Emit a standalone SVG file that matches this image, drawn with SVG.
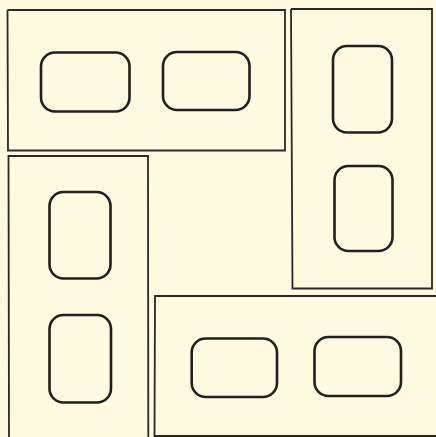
<svg xmlns="http://www.w3.org/2000/svg" width="436" height="437" viewBox="0 0 436 437">
<style>
.panel{fill:none;stroke:#2b2627;stroke-width:1.8}
.win{fill:none;stroke:#231f20;stroke-width:2.6}
</style>
<rect width="436" height="437" fill="#fcfbe2"/>
<g id="panel-top">
<polyline class="panel" points="7.5,10 285,10 285,150.5 8,150.5 7.5,10"/>
<rect class="win" x="41" y="52.5" width="88.5" height="59" rx="14"/>
<rect class="win" x="163" y="52" width="86.5" height="58" rx="14"/>
</g>
<g id="panel-right">
<polyline class="panel" points="291,9 432,9 432,288.5 292.5,288.5 291,9"/>
<rect class="win" x="333" y="46" width="59" height="86.5" rx="14"/>
<rect class="win" x="334.5" y="166" width="58" height="85" rx="14"/>
</g>
<g id="panel-left">
<polyline class="panel" points="9,437 8.5,156 148,156 148.3,437"/>
<rect class="win" x="49.5" y="192" width="61" height="86.5" rx="14"/>
<rect class="win" x="49.5" y="315" width="61.5" height="87.5" rx="14"/>
</g>
<g id="panel-bottom">
<polyline class="panel" points="154.5,437 155,296 436,296"/>
<line class="panel" x1="155" y1="436" x2="436" y2="436"/>
<rect class="win" x="191.7" y="338.5" width="85.3" height="58.5" rx="14"/>
<rect class="win" x="314.5" y="337" width="86.5" height="59" rx="14"/>
</g>
</svg>
